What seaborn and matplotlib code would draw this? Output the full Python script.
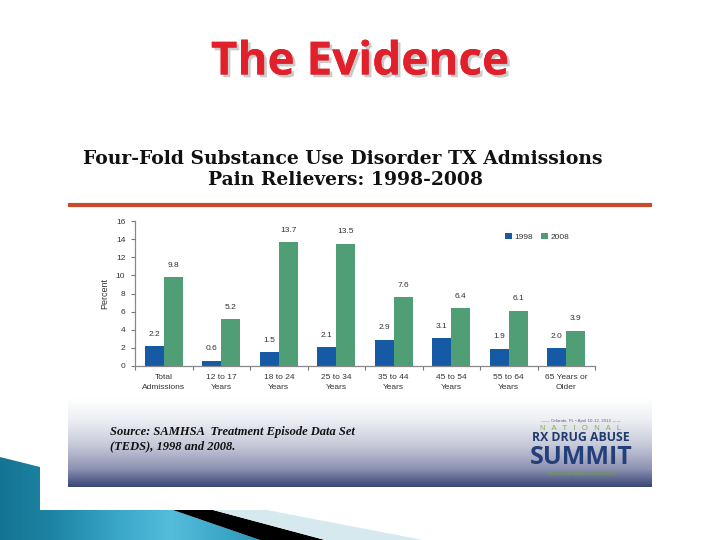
import numpy as np
import pandas as pd
import matplotlib
matplotlib.use("Agg")
import matplotlib.pyplot as plt
import seaborn as sns
from matplotlib.patches import Polygon
from matplotlib.colors import LinearSegmentedColormap
import matplotlib.patheffects as pe

# ---- data ----
categories = ["Total\nAdmissions", "12 to 17\nYears", "18 to 24\nYears", "25 to 34\nYears",
              "35 to 44\nYears", "45 to 54\nYears", "55 to 64\nYears", "65 Years or\nOlder"]
years = ["1998", "2008"]
v1998 = [2.2, 0.6, 1.5, 2.1, 2.9, 3.1, 1.9, 2.0]
v2008 = [9.8, 5.2, 13.7, 13.5, 7.6, 6.4, 6.1, 3.9]
yticks = [0, 2, 4, 6, 8, 10, 12, 14, 16]

df = pd.DataFrame({
    "Category": categories * 2,
    "Year": [years[0]] * len(v1998) + [years[1]] * len(v2008),
    "Percent": v1998 + v2008,
})

sns.set_theme(style="white")
plt.rcParams["font.family"] = ["Liberation Sans", "DejaVu Sans"]

W, H = 720, 540
fig = plt.figure(figsize=(7.2, 5.4), dpi=100)
fig.patch.set_facecolor("white")


def fx(x):
    return x / W


def fy(y):
    return 1 - y / H


# ---- background / decoration axes in pixel coordinates ----
bg = fig.add_axes([0, 0, 1, 1], zorder=0)
bg.set_xlim(0, W)
bg.set_ylim(H, 0)
bg.axis("off")

# footer gradient of the embedded chart image
cmap = LinearSegmentedColormap.from_list(
    "foot", [(0.0, "#ffffff"), (0.25, "#eceef3"), (0.55, "#c4c6d6"),
             (0.8, "#8c91b1"), (1.0, "#3b4676")])
grad = np.linspace(0, 1, 200).reshape(-1, 1)
bg.imshow(grad, extent=[68, 652, 487, 398], aspect="auto", cmap=cmap,
          origin="upper", zorder=1)

# orange-red rule under chart title
bg.plot([68, 652], [205, 205], color="#cc4a2c", lw=3, solid_capstyle="butt", zorder=2)

# bottom-left slide decorations
teal = Polygon([(0, 457), (40, 467), (40, 510), (173, 510), (260, 540), (0, 540)],
               closed=True, facecolor="none", edgecolor="none", zorder=1)
bg.add_patch(teal)
tcmap = LinearSegmentedColormap.from_list(
    "teal", [(0.0, "#157492"), (0.2, "#1d84a5"), (0.45, "#3aa6c8"),
             (0.65, "#55bddc"), (1.0, "#2b97b9")])
tg = np.linspace(0, 1, 300).reshape(1, -1)
im = bg.imshow(tg, extent=[0, 262, 540, 455], aspect="auto", cmap=tcmap,
               origin="upper", zorder=1)
im.set_clip_path(teal)
bg.add_patch(Polygon([(173, 510), (213, 510), (325, 540), (260, 540)],
                     closed=True, facecolor="#000000", edgecolor="none", zorder=2))
bg.add_patch(Polygon([(213, 510), (267, 510), (423, 540), (325, 540)],
                     closed=True, facecolor="#d6e9ef", edgecolor="none", zorder=2))

# ---- slide title ----
fig.text(fx(360), fy(62), "The Evidence", ha="center", va="center",
         fontsize=33, fontweight="bold", color="#e0202b", family="Open Sans",
         path_effects=[pe.withSimplePatchShadow(offset=(2, -2), shadow_rgbFace="#999999", alpha=0.5),
                       pe.Normal()])

# ---- chart title ----
fig.text(fx(343), fy(159), "Four-Fold Substance Use Disorder TX Admissions",
         ha="center", va="center", fontsize=13.5, fontweight="bold",
         color="#111111", family="DejaVu Serif")
fig.text(fx(345), fy(180), "Pain Relievers: 1998-2008",
         ha="center", va="center", fontsize=13.5, fontweight="bold",
         color="#111111", family="DejaVu Serif")

# ---- bar chart ----
ax = fig.add_axes([fx(135), fy(366), 460 / W, 145 / H], zorder=3)
ax.patch.set_alpha(0)
sns.barplot(data=df, x="Category", y="Percent", hue="Year", hue_order=years,
            palette=["#165aa6", "#4f9e76"], width=0.66, gap=0, saturation=1,
            errorbar=None, linewidth=0, ax=ax)

for cont in ax.containers:
    ax.bar_label(cont, fmt="%.1f", padding=6, fontsize=6, color="#333333")

ax.set_xlim(-0.5, len(categories) - 0.5)
ax.set_ylim(0, 16)
ax.set_yticks(yticks)
ax.set_yticklabels([str(t) for t in yticks], fontsize=6, color="#333333")
ax.set_xticks(range(len(categories)))
ax.set_xticklabels(categories, fontsize=6, color="#333333", linespacing=1.5)
ax.set_xticks(np.arange(-0.5, len(categories), 1), minor=True)
ax.tick_params(axis="x", which="major", length=0, pad=6)
ax.tick_params(axis="x", which="minor", length=3, width=0.8, color="#777777", direction="out", bottom=True)
ax.tick_params(axis="y", length=3, width=0.8, color="#777777", direction="out", left=True, pad=4)
ax.set_xlabel("")
ax.set_ylabel("Percent", fontsize=6.5, color="#333333", labelpad=5)
for side in ("top", "right"):
    ax.spines[side].set_visible(False)
for side in ("left", "bottom"):
    ax.spines[side].set_color("#888888")
    ax.spines[side].set_linewidth(0.9)

handles, labels = ax.get_legend_handles_labels()
ax.legend(handles, labels, loc="upper right", bbox_to_anchor=(0.96, 0.97), ncol=2,
          frameon=False, fontsize=6, handlelength=0.8, handleheight=0.8,
          handletextpad=0.3, columnspacing=1.0, labelcolor="#333333")

# ---- source note ----
fig.text(fx(110), fy(432), "Source: SAMHSA  Treatment Episode Data Set",
         ha="left", va="center", fontsize=9, fontweight="bold", style="italic",
         family="Liberation Serif", color="#111111")
fig.text(fx(110), fy(446), "(TEDS), 1998 and 2008.",
         ha="left", va="center", fontsize=9, fontweight="bold", style="italic",
         family="Liberation Serif", color="#111111")

# ---- summit logo ----
lx = 581
fig.text(fx(lx), fy(421), "\u2014\u2014 Orlando, FL \u2022 April 10-12, 2012 \u2014\u2014",
         ha="center", va="center", fontsize=3.2, color="#666677")
fig.text(fx(lx), fy(429), "N   A   T   I   O   N   A   L", ha="center", va="center",
         fontsize=5.5, color="#7bb54a")
fig.text(fx(lx), fy(437.5), "RX DRUG ABUSE", ha="center", va="center",
         fontsize=8.8, fontweight="bold", color="#1f3a6d", family="Open Sans")
fig.text(fx(lx), fy(457.5), "SUMMIT", ha="center", va="center",
         fontsize=18, fontweight="bold", color="#24407a", family="Open Sans")
fig.text(fx(lx), fy(474), "nationalrxdrugabusesummit.org", ha="center", va="center",
         fontsize=3.5, color="#6fa24a")

fig.savefig("out.png", dpi=100, facecolor="white")
